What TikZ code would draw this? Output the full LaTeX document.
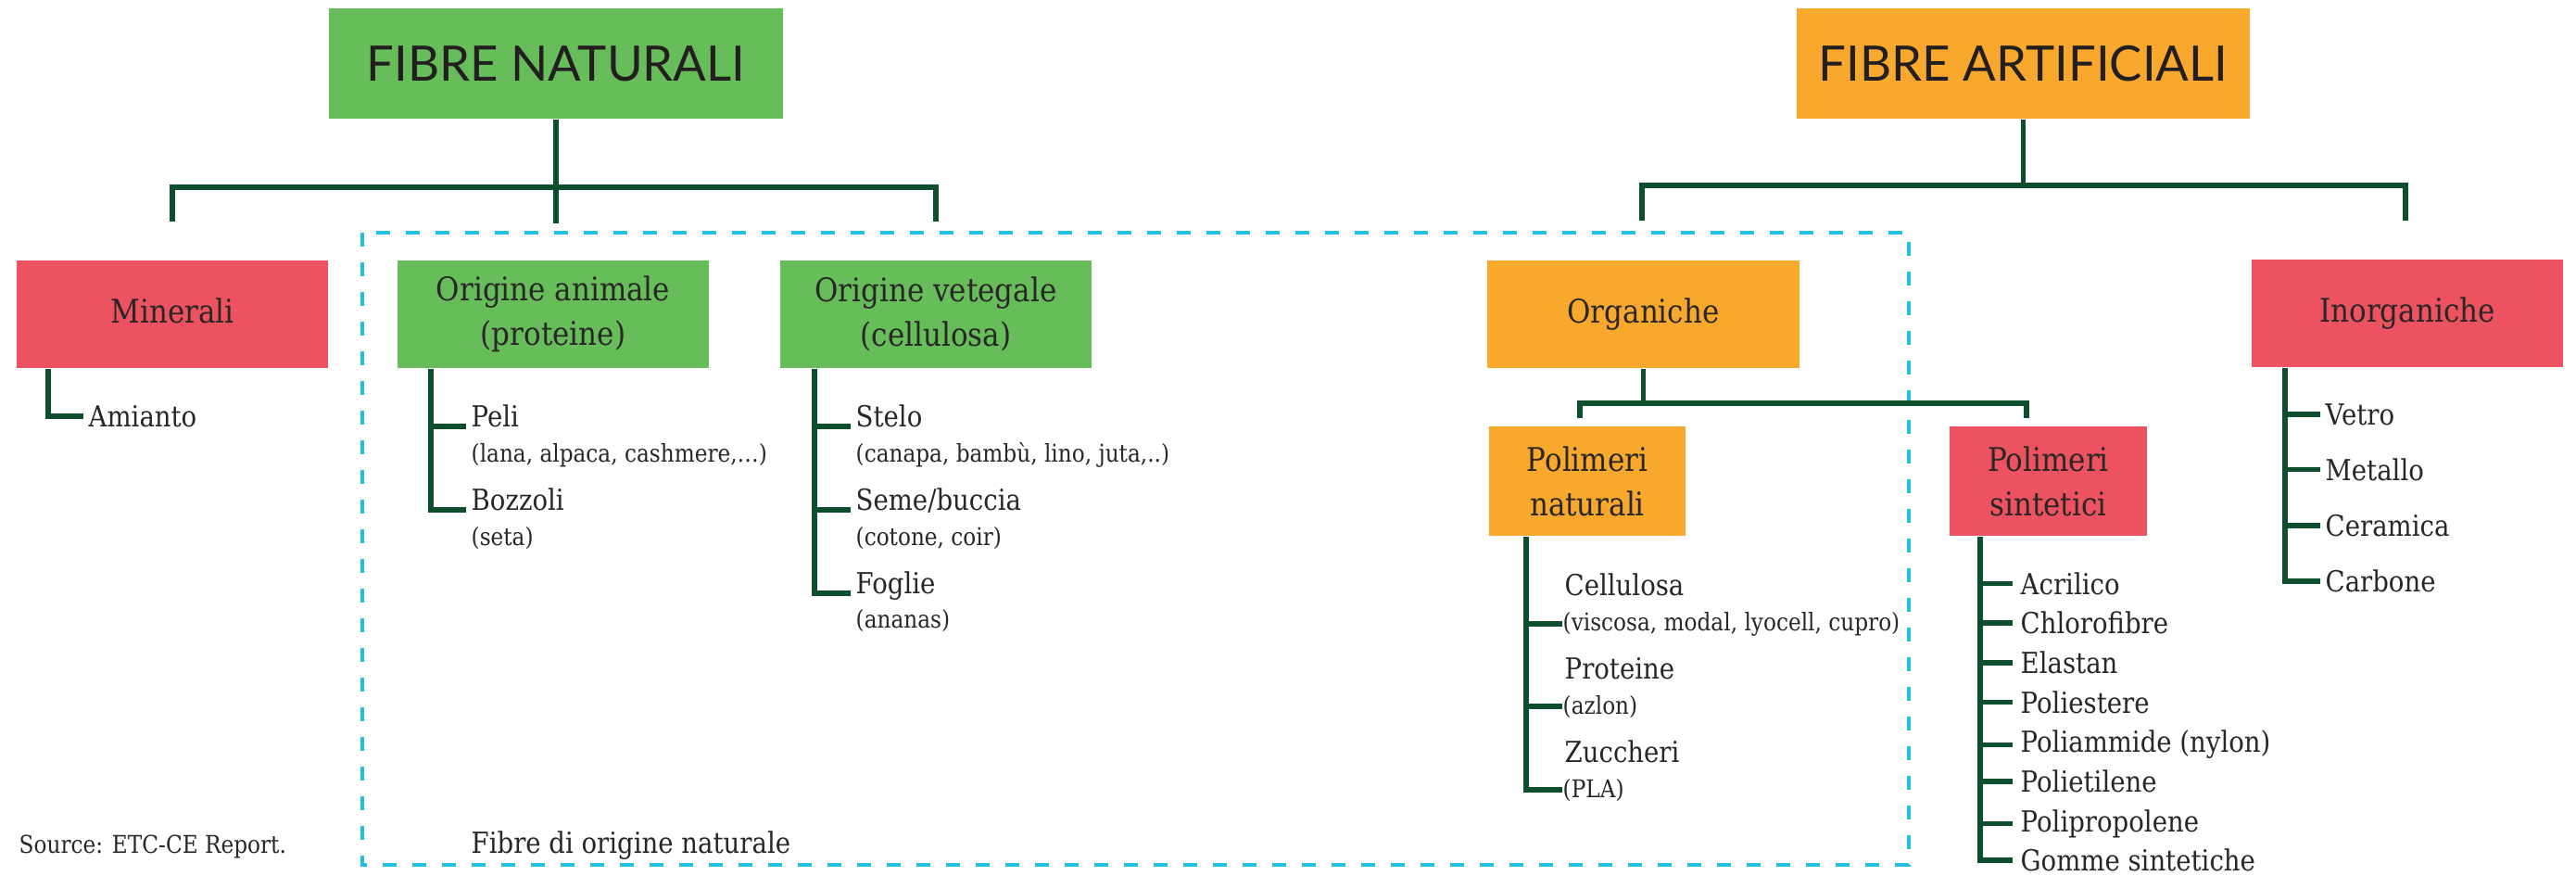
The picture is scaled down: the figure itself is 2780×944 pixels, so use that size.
\documentclass[tikz,border=0pt]{standalone}
\usepackage{fontspec}
\setmainfont{DejaVu Serif}[FakeStretch=0.88]
\newfontfamily\titlefont{Lato}

\definecolor{natgreen}{RGB}{103,189,90}
\definecolor{artorange}{RGB}{249,168,46}
\definecolor{inored}{RGB}{236,82,95}
\definecolor{linkgreen}{RGB}{12,78,46}
\definecolor{dashblue}{RGB}{33,191,230}
\definecolor{inkgray}{RGB}{40,38,38}
\definecolor{titleink}{RGB}{35,31,32}

\tikzset{
  link/.style={draw=linkgreen, line width=1.6pt},
  catbox/.style={rectangle, inner sep=0pt, minimum width=3.36cm, minimum height=1.16cm,
    align=center, text=inkgray, font=\fontsize{10}{13.6}\selectfont},
  polybox/.style={catbox, minimum width=2.12cm, minimum height=1.18cm},
  titlebox/.style={rectangle, inner sep=0pt, minimum width=4.89cm, minimum height=1.19cm,
    text=titleink, font=\titlefont\fontsize{15}{18}\selectfont},
  leaf/.style={anchor=base west, inner xsep=0.5mm, inner ysep=0pt, text=inkgray,
    font=\fontsize{8.9}{10}\selectfont},
  note/.style={leaf, font=\fontsize{7.5}{9}\selectfont},
  dashline/.style={draw=dashblue, line width=1.1pt, dash pattern=on 4.3pt off 4.8pt},
}

\begin{document}
\begin{tikzpicture}[x=0.01cm, y=-0.01cm]
  \useasboundingbox (0,0) rectangle (2780,944);

  % riquadro tratteggiato: fibre di origine naturale
  \draw[dashline] (391,251) rectangle (2060,933);
  \node[leaf] (fibnat) at (503,920) {Fibre di origine naturale};
  \node[note] (source) at (15,920) {Source: ETC-CE Report.};

  % titoli
  \node[titlebox, fill=natgreen] (nat) at (600,68.5) {FIBRE NATURALI};
  \node[titlebox, fill=artorange] (art) at (2183.5,68.5) {FIBRE ARTIFICIALI};

  % categorie
  \node[catbox, fill=inored] (min) at (186,339) {Minerali\vphantom{g}};
  \node[catbox, fill=natgreen] (ani) at (597,339) {Origine animale\\(proteine)};
  \node[catbox, fill=natgreen] (veg) at (1010,339) {Origine vetegale\\(cellulosa)};
  \node[catbox, fill=artorange] (org) at (1773.5,339) {Organiche};
  \node[catbox, fill=inored] (ino) at (2598,338) {Inorganiche};
  \node[polybox, fill=artorange] (pnat) at (1713,519) {Polimeri\\naturali};
  \node[polybox, fill=inored] (psin) at (2210.5,519) {Polimeri\\sintetici};

  % rami dai titoli
  \coordinate (natbar) at (600,202);
  \coordinate (minstub) at (186,239);
  \coordinate (anistub) at (600,241);
  \coordinate (vegstub) at (1010,239);
  \draw[link] (nat.south) -- (anistub);
  \draw[link] (minstub) |- (natbar) -| (vegstub);

  \coordinate (artbar) at (2183.5,200);
  \coordinate (orgstub) at (1772,238);
  \coordinate (inostub) at (2596,238);
  \draw[link] (art.south) -- (artbar);
  \draw[link] (orgstub) |- (artbar) -| (inostub);

  \coordinate (orgbar) at (1773.5,435);
  \coordinate (pnatstub) at (1705,451);
  \coordinate (psinstub) at (2187,451);
  \draw[link] (org.south) -- (orgbar);
  \draw[link] (pnatstub) |- (orgbar) -| (psinstub);

  % minerali
  \node[leaf] (amianto) at (90,460) {Amianto};
  \draw[link] ([xshift=3.5mm]min.south west) |- (amianto.west);

  % origine animale
  \node[leaf] (peli) at (503,460) {Peli};
  \node[note] (pelisub) at (503,498) {(lana, alpaca, cashmere,…)};
  \node[leaf] (bozzoli) at (503,550) {Bozzoli};
  \node[note] (bozzsub) at (503,588) {(seta)};
  \coordinate (anistem) at ([xshift=3.7mm]ani.south west);
  \draw[link] (anistem) |- (bozzoli.base west);
  \draw[link] (anistem |- peli.base west) -- (peli.base west);

  % origine vegetale
  \node[leaf] (stelo) at (918,460) {Stelo};
  \node[note] (stelosub) at (918,498) {(canapa, bambù, lino, juta,..)};
  \node[leaf] (seme) at (918,550) {Seme/buccia};
  \node[note] (semesub) at (918,588) {(cotone, coir)};
  \node[leaf] (foglie) at (918,640) {Foglie};
  \node[note] (fogliesub) at (918,677) {(ananas)};
  \coordinate (vegstem) at ([xshift=3.8mm]veg.south west);
  \draw[link] (vegstem) |- (foglie.base west);
  \foreach \n in {stelo, seme}
    \draw[link] (vegstem |- \n.base west) -- (\n.base west);

  % polimeri naturali
  \node[leaf] (cell) at (1683,642) {Cellulosa};
  \node[note, inner xsep=0pt] (cellsub) at (1686,680) {(viscosa, modal, lyocell, cupro)};
  \node[leaf] (prot) at (1683,732) {Proteine};
  \node[note, inner xsep=0pt] (protsub) at (1686,770) {(azlon)};
  \node[leaf] (zucc) at (1683,822) {Zuccheri};
  \node[note, inner xsep=0pt] (zuccsub) at (1686,860) {(PLA)};
  \coordinate (pnatstem) at ([xshift=4.1mm]pnat.south west);
  \draw[link] (pnatstem) |- (zuccsub.west);
  \foreach \n in {cellsub, protsub}
    \draw[link] (pnatstem |- \n.west) -- (\n.west);

  % polimeri sintetici
  \foreach \lbl [count=\i] in {Acrilico, Chlorofibre, Elastan, Poliestere,
      Poliammide (nylon), Polietilene, Polipropolene, Gomme sintetiche}
    \node[leaf, inner xsep=0.8mm] (sin\i) at (2172,{641+42.7*(\i-1)}) {\lbl};
  \coordinate (psinstem) at ([xshift=3.3mm]psin.south west);
  \draw[link] (psinstem) |- (sin8.west);
  \foreach \i in {1,...,7}
    \draw[link] (psinstem |- sin\i.west) -- (sin\i.west);

  % inorganiche
  \foreach \lbl [count=\i] in {Vetro, Metallo, Ceramica, Carbone}
    \node[leaf] (ino\i) at (2504,{458+60.3*(\i-1)}) {\lbl};
  \coordinate (inostem) at ([xshift=3.7mm]ino.south west);
  \draw[link] (inostem) |- (ino4.west);
  \foreach \i in {1,2,3}
    \draw[link] (inostem |- ino\i.west) -- (ino\i.west);
\end{tikzpicture}
\end{document}
